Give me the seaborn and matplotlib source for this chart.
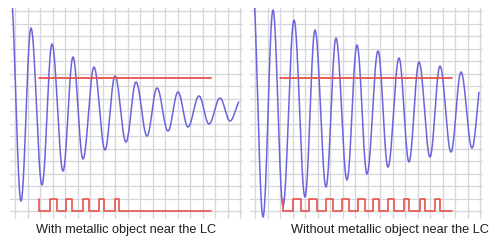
import numpy as np
import pandas as pd
import matplotlib
matplotlib.use("Agg")
import matplotlib.pyplot as plt
import seaborn as sns

# ---- data (grid units: one grid cell = 1) ----
captions = ["With metallic object near the LC", "Without metallic object near the LC"]

# extrema of the ringing waveform (x, y), left panel
left_ext_x = [-0.36, 0.48, 1.28, 2.16, 2.96, 3.84, 4.64, 5.44, 6.32, 7.20, 8.00, 8.88,
              9.68, 10.56, 11.36, 12.24, 13.04, 13.84, 14.72, 15.52, 16.40, 17.20, 18.08]
left_ext_y = [17.76, 0.80, 14.64, 2.08, 13.36, 3.20, 12.32, 4.16, 11.52, 4.88, 10.80, 5.52,
              10.32, 6.00, 9.84, 6.40, 9.52, 6.72, 9.20, 6.96, 9.04, 7.20, 8.88]
# extrema of the ringing waveform (x, y), right panel
right_ext_x = [-0.20, 0.64, 1.44, 2.24, 3.12, 4.00, 4.80, 5.68, 6.48, 7.36, 8.16, 8.96,
               9.84, 10.64, 11.52, 12.32, 13.12, 14.00, 14.80, 15.68, 16.48, 17.36, 18.16]
right_ext_y = [18.16, -0.48, 16.08, 0.40, 15.28, 1.12, 14.48, 1.92, 13.84, 2.48, 13.28, 2.96,
               12.80, 3.52, 12.24, 3.92, 11.92, 4.32, 11.60, 4.72, 11.12, 5.04, 10.72]
wave_end_x = 17.92

# red threshold line (x start, x end, y)
left_thresh = (1.92, 15.68, 10.64)
right_thresh = (2.00, 15.76, 10.64)

# comparator pulse train edges
left_pulse_start, left_pulse_end = 1.95, 15.68
left_rise = [2.80, 4.08, 5.44, 6.72, 8.00]
left_fall = [3.36, 4.56, 5.92, 7.12, 8.32]
right_pulse_start, right_pulse_end = 2.24, 15.76
right_rise = [3.04, 4.32, 5.68, 6.96, 8.24, 9.44, 10.64, 11.92, 13.20, 14.40]
right_fall = [3.68, 4.96, 6.24, 7.52, 8.80, 9.92, 11.12, 12.32, 13.60, 14.80]
pulse_low, pulse_high = 0.0, 1.0

BLUE = "#6a64dc"
RED = "#e8524c"
GRID = "#d6d6da"


def wave_frame(ex, ey, xend):
    xs, ys = [], []
    for i in range(len(ex) - 1):
        t = np.linspace(0, 1, 40)
        x = ex[i] + (ex[i + 1] - ex[i]) * t
        y = ey[i] + (ey[i + 1] - ey[i]) * (1 - np.cos(np.pi * t)) / 2
        xs.append(x)
        ys.append(y)
    x = np.concatenate(xs)
    y = np.concatenate(ys)
    m = x <= xend
    return pd.DataFrame({"x": x[m], "y": y[m]})


def pulse_frame(start, end, rises, falls):
    px = [start, start]
    py = [pulse_high, pulse_low]
    for r, f in zip(rises, falls):
        px += [r, r, f, f]
        py += [pulse_low, pulse_high, pulse_high, pulse_low]
    px.append(end)
    py.append(pulse_low)
    return pd.DataFrame({"x": px, "y": py})


sns.set_style("white")
fig = plt.figure(figsize=(5.0, 2.51), dpi=100)

panels = [
    (0.02, left_ext_x, left_ext_y, left_thresh, left_pulse_start, left_pulse_end, left_rise, left_fall, 126),
    (0.50, right_ext_x, right_ext_y, right_thresh, right_pulse_start, right_pulse_end, right_rise, right_fall, 390),
]

for i, (x0, ex, ey, th, ps, pe, pr, pf, cx) in enumerate(panels):
    ax = fig.add_axes([x0, 1 - 220 / 251, 233 / 500, 211 / 251])
    ax.set_xlim(-0.4, 18.24)
    ax.set_ylim(-0.64, 16.24)
    ax.set_xticks(range(0, 19))
    ax.set_yticks(range(0, 17))
    ax.grid(True, color=GRID, lw=0.9)
    ax.tick_params(length=0, labelbottom=False, labelleft=False)
    for s in ax.spines.values():
        s.set_visible(False)

    wf = wave_frame(ex, ey, wave_end_x)
    sns.lineplot(data=wf, x="x", y="y", ax=ax, sort=False, estimator=None,
                 color=BLUE, lw=1.1)
    tf = pd.DataFrame({"x": [th[0], th[1]], "y": [th[2], th[2]]})
    sns.lineplot(data=tf, x="x", y="y", ax=ax, sort=False, estimator=None,
                 color=RED, lw=1.3)
    pfm = pulse_frame(ps, pe, pr, pf)
    sns.lineplot(data=pfm, x="x", y="y", ax=ax, sort=False, estimator=None,
                 color=RED, lw=1.2)
    ax.set_xlabel("")
    ax.set_ylabel("")

    fig.text(cx / 500, 1 - 230.5 / 251, captions[i], ha="center", va="center",
             fontsize=9.2, family="Liberation Sans", color="#1e1e1e")

fig.savefig("out.png", dpi=100)
